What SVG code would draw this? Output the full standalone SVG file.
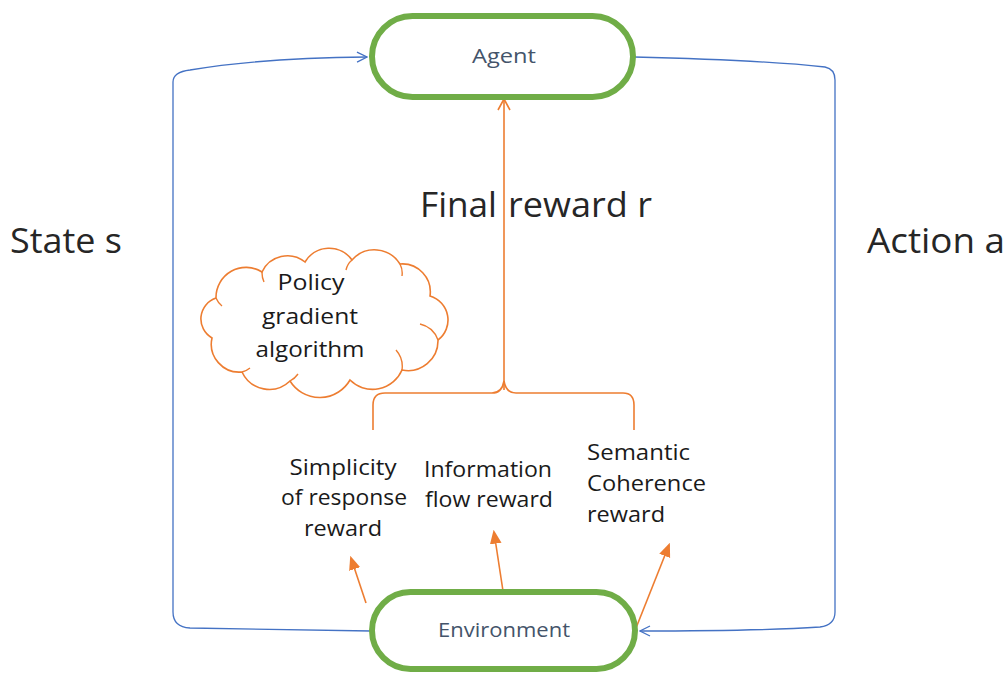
<svg xmlns="http://www.w3.org/2000/svg" width="1008" height="673" viewBox="0 0 1008 673">
<style>
.pill{fill:#fff;stroke:#70AD47;stroke-width:6}
.ntext{font-family:"Open Sans","Liberation Sans",sans-serif;font-size:20px;fill:#44546A;text-anchor:middle}
.blue{fill:none;stroke:#4472C4;stroke-width:1.3}
.or{fill:none;stroke:#ED7D31;stroke-width:1.6}
.big{font-family:"Open Sans","Liberation Sans",sans-serif;font-size:34px;fill:#262626}
.lab{font-family:"Open Sans","Liberation Sans",sans-serif;font-size:21px;fill:#1a1a1a;text-anchor:middle}
.lft{text-anchor:start}
</style>
<defs>
<marker id="openB" viewBox="0 0 12 12" refX="11" refY="6" markerWidth="12" markerHeight="12" markerUnits="userSpaceOnUse" orient="auto">
<path d="M1,1 L11,6 L1,11" fill="none" stroke="#4472C4" stroke-width="1.3"/>
</marker>
<marker id="filO" viewBox="0 0 12 12" refX="10" refY="6" markerWidth="14" markerHeight="14" markerUnits="userSpaceOnUse" orient="auto">
<path d="M0,1 L12,6 L0,11 Z" fill="#ED7D31"/>
</marker>
</defs>
<rect width="1008" height="673" fill="#fff"/>
<g id="connectors">
<path class="blue" d="M371,631 L190,628 Q173,627 173,612 L173,82 Q173,72 190,70 Q260,58 367,57" marker-end="url(#openB)"/>
<path class="blue" d="M634,57 Q760,60 825,67 Q835,69 835,80 L835,612 Q835,625 820,627 Q760,631 640,631" marker-end="url(#openB)"/>
<path class="or" d="M504,390 L504,101"/>
<path class="or" d="M498,110 L504,99 L510,110"/>
<path class="or" d="M373,430 L373,405 Q373,393 385,393 L492,393 Q502,393 504,381 Q506,393 516,393 L623,393 Q634,393 634,405 L634,430"/>
<path class="or" d="M366,603 L351,558" marker-end="url(#filO)"/>
<path class="or" d="M503,591 L494,532" marker-end="url(#filO)"/>
<path class="or" d="M636,628 L669,545" marker-end="url(#filO)"/>
</g>
<g id="agent">
<rect class="pill" x="372" y="16" width="261" height="81" rx="40.5"/>
<text class="ntext" x="504" y="63" textLength="64" lengthAdjust="spacingAndGlyphs">Agent</text>
</g>
<g id="environment">
<rect class="pill" x="372" y="592" width="263" height="77" rx="38.5"/>
<text class="ntext" x="504" y="637" textLength="132" lengthAdjust="spacingAndGlyphs">Environment</text>
</g>
<g id="cloud">
<path d="M212,338 A22,22 0 0 1 216,298 A30,30 0 0 1 262,272 A28,28 0 0 1 305,262 A28,28 0 0 1 352,260 A30,30 0 0 1 400,264 A28,28 0 0 1 430,296 A25,25 0 0 1 438,340 A30,30 0 0 1 402,370 A32,32 0 0 1 350,380 A35,35 0 0 1 290,381 A30,30 0 0 1 242,372 A28,28 0 0 1 212,338 Z" fill="#fff" stroke="#ED7D31" stroke-width="1.6"/>
<path d="M216,298 A20,20 0 0 0 222,306 M262,272 A22,22 0 0 0 264,282 M352,260 A18,18 0 0 0 346,270 M400,264 A20,20 0 0 1 402,276 M438,340 A25,25 0 0 0 420,324 M402,370 A25,25 0 0 0 396,350 M290,381 A22,22 0 0 0 298,374 M242,372 A20,20 0 0 0 250,368" fill="none" stroke="#ED7D31" stroke-width="1.4"/>
<text class="lab" x="311" y="290" textLength="67" lengthAdjust="spacingAndGlyphs">Policy</text>
<text class="lab" x="310" y="324" textLength="96" lengthAdjust="spacingAndGlyphs">gradient</text>
<text class="lab" x="310" y="357" textLength="109" lengthAdjust="spacingAndGlyphs">algorithm</text>
</g>
<g id="texts">
<text class="big" x="10" y="253" textLength="112" lengthAdjust="spacingAndGlyphs">State s</text>
<text class="big" x="867" y="253" textLength="138" lengthAdjust="spacingAndGlyphs">Action a</text>
<text class="big" x="420" y="217" textLength="77" lengthAdjust="spacingAndGlyphs">Final</text>
<text class="big" x="508" y="217" textLength="144" lengthAdjust="spacingAndGlyphs">reward r</text>
</g>
<g id="rewards">
<text class="lab" x="343" y="475" textLength="107" lengthAdjust="spacingAndGlyphs">Simplicity</text>
<text class="lab" x="344" y="505" textLength="126" lengthAdjust="spacingAndGlyphs">of response</text>
<text class="lab" x="343" y="536" textLength="78" lengthAdjust="spacingAndGlyphs">reward</text>
<text class="lab" x="488" y="477" textLength="128" lengthAdjust="spacingAndGlyphs">Information</text>
<text class="lab" x="489" y="507" textLength="128" lengthAdjust="spacingAndGlyphs">flow reward</text>
<text class="lab lft" x="587" y="460" textLength="103" lengthAdjust="spacingAndGlyphs">Semantic</text>
<text class="lab lft" x="587" y="491" textLength="119" lengthAdjust="spacingAndGlyphs">Coherence</text>
<text class="lab lft" x="587" y="522" textLength="78" lengthAdjust="spacingAndGlyphs">reward</text>
</g>
</svg>
